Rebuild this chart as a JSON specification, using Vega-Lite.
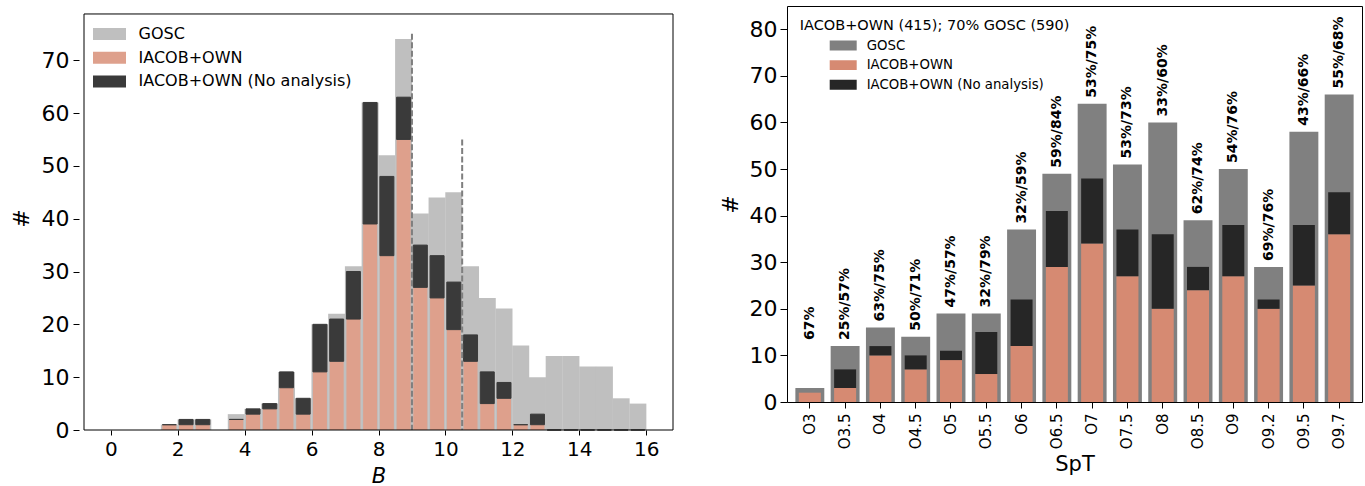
{
  "$schema": "https://vega.github.io/schema/vega-lite/v6.json",
  "padding": {"left": 10, "top": 5, "right": 5, "bottom": 0},
  "spacing": 40,
  "config": {
    "font": "DejaVu Sans",
    "view": {"stroke": "black", "strokeWidth": 1},
    "axis": {"grid": false, "domain": false, "tickColor": "black", "labelColor": "black", "titleColor": "black", "titleFontWeight": "normal", "tickWidth": 1},
    "legend": {"labelColor": "black", "titleColor": "black", "symbolStrokeWidth": 0, "labelLimit": 500, "titleLimit": 500, "titleFontWeight": "normal", "labelFontWeight": "normal"}
  },
  "resolve": {"scale": {"color": "independent"}, "legend": {"color": "independent"}},
  "hconcat": [
    {
      "width": 599,
      "height": 424,
      "view": {"stroke": null},
      "data": {"values": [
        {"B": 1.75, "gosc": 1, "total": 1, "analyzed": 1},
        {"B": 2.25, "gosc": 2, "total": 2, "analyzed": 1},
        {"B": 2.75, "gosc": 2, "total": 2, "analyzed": 1},
        {"B": 3.75, "gosc": 3, "total": 2, "analyzed": 2},
        {"B": 4.25, "gosc": 4, "total": 4, "analyzed": 3},
        {"B": 4.75, "gosc": 5, "total": 5, "analyzed": 4},
        {"B": 5.25, "gosc": 11, "total": 11, "analyzed": 8},
        {"B": 5.75, "gosc": 6, "total": 6, "analyzed": 3},
        {"B": 6.25, "gosc": 20, "total": 20, "analyzed": 11},
        {"B": 6.75, "gosc": 22, "total": 21, "analyzed": 13},
        {"B": 7.25, "gosc": 31, "total": 30, "analyzed": 21},
        {"B": 7.75, "gosc": 62, "total": 62, "analyzed": 39},
        {"B": 8.25, "gosc": 52, "total": 48, "analyzed": 33},
        {"B": 8.75, "gosc": 74, "total": 63, "analyzed": 55},
        {"B": 9.25, "gosc": 41, "total": 35, "analyzed": 27},
        {"B": 9.75, "gosc": 44, "total": 33, "analyzed": 25},
        {"B": 10.25, "gosc": 45, "total": 28, "analyzed": 19},
        {"B": 10.75, "gosc": 31, "total": 18, "analyzed": 13},
        {"B": 11.25, "gosc": 25, "total": 11, "analyzed": 5},
        {"B": 11.75, "gosc": 23, "total": 9, "analyzed": 6},
        {"B": 12.25, "gosc": 16, "total": 1, "analyzed": 1},
        {"B": 12.75, "gosc": 10, "total": 3, "analyzed": 1},
        {"B": 13.25, "gosc": 14, "total": 0, "analyzed": 0},
        {"B": 13.75, "gosc": 14, "total": 0, "analyzed": 0},
        {"B": 14.25, "gosc": 12, "total": 0, "analyzed": 0},
        {"B": 14.75, "gosc": 12, "total": 0, "analyzed": 0},
        {"B": 15.25, "gosc": 6, "total": 0, "analyzed": 0},
        {"B": 15.75, "gosc": 5, "total": 0, "analyzed": 0}
      ]},
      "layer": [
        {
          "mark": {"type": "bar", "size": 17},
          "encoding": {
            "x": {"field": "B", "type": "quantitative",
              "scale": {"domain": [-0.8, 16.8], "nice": false, "zero": false},
              "axis": {"values": [0, 2, 4, 6, 8, 10, 12, 14, 16], "labelFontSize": 20, "tickSize": 5, "labelPadding": 4, "title": "B", "titleFontStyle": "italic", "titleFontSize": 21, "titlePadding": 6}},
            "y": {"field": "gosc", "type": "quantitative",
              "scale": {"domain": [0, 80.26], "nice": false},
              "axis": {"values": [0, 10, 20, 30, 40, 50, 60, 70], "labelFontSize": 22, "tickSize": 6, "labelPadding": 4, "title": "#", "titleFontSize": 22, "titlePadding": 8}},
            "color": {"datum": "GOSC", "type": "nominal",
              "scale": {"domain": ["GOSC", "IACOB+OWN", "IACOB+OWN (No analysis)"], "range": ["#bfbfbf", "#dea08c", "#3a3a3a"]},
              "legend": {"title": null, "orient": "none", "legendX": 14, "legendY": 19, "labelFontSize": 16, "labelOffset": 12.5, "symbolType": "M-1,-0.365H1V0.365H-1Z", "symbolSize": 1089, "clipHeight": 18, "rowPadding": 5.7, "padding": 0}}
          }
        },
        {
          "mark": {"type": "bar", "size": 14},
          "encoding": {
            "x": {"field": "B", "type": "quantitative"},
            "y": {"field": "analyzed", "type": "quantitative"},
            "color": {"datum": "IACOB+OWN", "type": "nominal", "legend": null}
          }
        },
        {
          "mark": {"type": "bar", "size": 14, "stroke": "#3a3a3a", "strokeWidth": 1},
          "encoding": {
            "x": {"field": "B", "type": "quantitative"},
            "y": {"field": "total", "type": "quantitative"},
            "y2": {"field": "analyzed"},
            "color": {"datum": "IACOB+OWN (No analysis)", "type": "nominal", "legend": null}
          }
        },
        {
          "data": {"values": [{"B": 9, "top": 75}, {"B": 10.5, "top": 55}]},
          "mark": {"type": "rule", "strokeDash": [6, 2.5], "strokeWidth": 2, "color": "#7f7f7f"},
          "encoding": {
            "x": {"field": "B", "type": "quantitative"},
            "y": {"field": "top", "type": "quantitative"},
            "y2": {"datum": 0}
          }
        },
        {
          "data": {"values": [{}]},
          "mark": {"type": "rule", "color": "black", "strokeWidth": 1},
          "encoding": {"x": {"datum": -0.8, "type": "quantitative"}, "y": {"datum": 0, "type": "quantitative"}, "y2": {"datum": 78.75}}
        },
        {
          "data": {"values": [{}]},
          "mark": {"type": "rule", "color": "black", "strokeWidth": 1},
          "encoding": {"x": {"datum": 16.8, "type": "quantitative"}, "y": {"datum": 0, "type": "quantitative"}, "y2": {"datum": 78.75}}
        },
        {
          "data": {"values": [{}]},
          "mark": {"type": "rule", "color": "black", "strokeWidth": 1},
          "encoding": {"x": {"datum": -0.8, "type": "quantitative"}, "x2": {"datum": 16.8}, "y": {"datum": 78.75, "type": "quantitative"}}
        },
        {
          "data": {"values": [{}]},
          "mark": {"type": "rule", "color": "black", "strokeWidth": 1},
          "encoding": {"x": {"datum": -0.8, "type": "quantitative"}, "x2": {"datum": 16.8}, "y": {"datum": 0, "type": "quantitative"}}
        }
      ]
    },
    {
      "width": 575,
      "height": 396,
      "data": {"values": [
        {"spt": "O3", "gosc": 3, "total": 2, "analyzed": 2, "label": "67%"},
        {"spt": "O3.5", "gosc": 12, "total": 7, "analyzed": 3, "label": "25%/57%"},
        {"spt": "O4", "gosc": 16, "total": 12, "analyzed": 10, "label": "63%/75%"},
        {"spt": "O4.5", "gosc": 14, "total": 10, "analyzed": 7, "label": "50%/71%"},
        {"spt": "O5", "gosc": 19, "total": 11, "analyzed": 9, "label": "47%/57%"},
        {"spt": "O5.5", "gosc": 19, "total": 15, "analyzed": 6, "label": "32%/79%"},
        {"spt": "O6", "gosc": 37, "total": 22, "analyzed": 12, "label": "32%/59%"},
        {"spt": "O6.5", "gosc": 49, "total": 41, "analyzed": 29, "label": "59%/84%"},
        {"spt": "O7", "gosc": 64, "total": 48, "analyzed": 34, "label": "53%/75%"},
        {"spt": "O7.5", "gosc": 51, "total": 37, "analyzed": 27, "label": "53%/73%"},
        {"spt": "O8", "gosc": 60, "total": 36, "analyzed": 20, "label": "33%/60%"},
        {"spt": "O8.5", "gosc": 39, "total": 29, "analyzed": 24, "label": "62%/74%"},
        {"spt": "O9", "gosc": 50, "total": 38, "analyzed": 27, "label": "54%/76%"},
        {"spt": "O9.2", "gosc": 29, "total": 22, "analyzed": 20, "label": "69%/76%"},
        {"spt": "O9.5", "gosc": 58, "total": 38, "analyzed": 25, "label": "43%/66%"},
        {"spt": "O9.7", "gosc": 66, "total": 45, "analyzed": 36, "label": "55%/68%"}
      ]},
      "encoding": {
        "x": {"field": "spt", "type": "nominal", "sort": null,
          "scale": {"paddingInner": 0.18, "paddingOuter": 0.237},
          "axis": {"labelAngle": 270, "labelFontSize": 15, "labelPadding": 5, "tickSize": 6, "title": "SpT", "titleFontSize": 21, "titlePadding": 5}}
      },
      "layer": [
        {
          "mark": {"type": "bar"},
          "encoding": {
            "y": {"field": "gosc", "type": "quantitative",
              "scale": {"domain": [0, 85], "nice": false},
              "axis": {"values": [0, 10, 20, 30, 40, 50, 60, 70, 80], "labelFontSize": 22, "tickSize": 7, "labelPadding": 3, "title": "#", "titleFontSize": 22, "titlePadding": 7}},
            "color": {"datum": "GOSC", "type": "nominal",
              "scale": {"domain": ["GOSC", "IACOB+OWN", "IACOB+OWN (No analysis)"], "range": ["#808080", "#d68a72", "#262626"]},
              "legend": {"title": "IACOB+OWN (415); 70% GOSC (590)", "titleFontSize": 14.5, "titlePadding": 5, "orient": "none", "legendX": 12.7, "legendY": 13, "labelFontSize": 13.3, "symbolOffset": 30, "labelOffset": 10, "symbolType": "M-1,-0.365H1V0.365H-1Z", "symbolSize": 729, "clipHeight": 14, "rowPadding": 5.6, "padding": 0}}
          }
        },
        {
          "mark": {"type": "bar", "size": 22},
          "encoding": {
            "y": {"field": "analyzed", "type": "quantitative"},
            "color": {"datum": "IACOB+OWN", "type": "nominal", "legend": null}
          }
        },
        {
          "mark": {"type": "bar", "size": 22},
          "encoding": {
            "y": {"field": "total", "type": "quantitative"},
            "y2": {"field": "analyzed"},
            "color": {"datum": "IACOB+OWN (No analysis)", "type": "nominal", "legend": null}
          }
        },
        {
          "transform": [{"filter": "datum.spt !== 'O3'"}],
          "mark": {"type": "text", "angle": 270, "align": "left", "baseline": "middle", "dx": 6, "fontWeight": "bold", "fontSize": 14, "color": "black"},
          "encoding": {
            "y": {"field": "gosc", "type": "quantitative"},
            "text": {"field": "label"}
          }
        },
        {
          "transform": [{"filter": "datum.spt === 'O3'"}],
          "mark": {"type": "text", "angle": 270, "align": "left", "baseline": "middle", "dx": 6, "fontWeight": "bold", "fontSize": 14, "color": "black"},
          "encoding": {
            "y": {"datum": 12},
            "text": {"field": "label"}
          }
        }
      ]
    }
  ]
}
